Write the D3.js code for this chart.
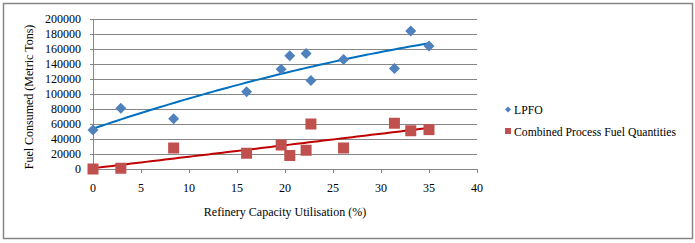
<!DOCTYPE html>
<html>
<head>
<meta charset="utf-8">
<script src="https://cdn.jsdelivr.net/npm/d3@7"></script>
<style>
	body { margin: 0; background: #fff; }
	text { font-family: "Liberation Serif", "Times New Roman", serif; fill: #000; }
</style>
</head>
<body>
<div id="chart01"></div>
<script>
// values
var utilisation = [0, 2.9, 8.4, 16.0, 19.6, 20.5, 22.2, 22.7, 26.1, 31.4, 33.1, 35.0];
var lpfo = [52000, 81000, 67000, 103000, 133000, 151000, 154000, 118000, 146000, 134000, 184000, 164000];
var combined = [0, 1000, 28000, 21000, 32000, 18000, 25000, 60000, 28000, 61000, 51000, 52500];
var xTicks = [0, 5, 10, 15, 20, 25, 30, 35, 40];
var yTicks = [0, 20000, 40000, 60000, 80000, 100000, 120000, 140000, 160000, 180000, 200000];
var seriesNames = ["LPFO", "Combined Process Fuel Quantities"];

var width = 695, height = 243;
var svg = d3.select("#chart01").append("svg").attr("width", width).attr("height", height);

// outer frame
svg.append("rect")
	.attr("x", 3.5).attr("y", 3.5)
	.attr("width", 689).attr("height", 235)
	.attr("fill", "none").attr("stroke", "#868686").attr("stroke-width", 1.5);

var x = d3.scaleLinear().domain([0, 40]).range([93, 477]);
var y = d3.scaleLinear().domain([0, 200000]).range([169, 19]);

// gridlines
svg.append("g")
	.selectAll("line")
	.data(yTicks)
	.enter()
	.append("line")
	.attr("x1", 90)
	.attr("x2", x(40))
	.attr("y1", (d) => Math.round(y(d)) + 0.5)
	.attr("y2", (d) => Math.round(y(d)) + 0.5)
	.attr("stroke", "#868686");

// y axis line
svg.append("line")
	.attr("x1", x(0) + 0.5).attr("x2", x(0) + 0.5)
	.attr("y1", y(200000)).attr("y2", y(0) + 4)
	.attr("stroke", "#868686");

// x ticks
svg.append("g")
	.selectAll("line")
	.data(xTicks)
	.enter()
	.append("line")
	.attr("x1", (d) => Math.round(x(d)) + 0.5)
	.attr("x2", (d) => Math.round(x(d)) + 0.5)
	.attr("y1", y(0))
	.attr("y2", y(0) + 4)
	.attr("stroke", "#868686");

// tick labels
svg.append("g")
	.selectAll("text")
	.data(yTicks)
	.enter()
	.append("text")
	.attr("x", 81)
	.attr("y", (d) => y(d))
	.attr("dy", "0.35em")
	.attr("text-anchor", "end")
	.attr("font-size", "12px")
	.text((d) => d);

svg.append("g")
	.selectAll("text")
	.data(xTicks)
	.enter()
	.append("text")
	.attr("x", (d) => x(d))
	.attr("y", 192)
	.attr("text-anchor", "middle")
	.attr("font-size", "12px")
	.text((d) => d);

// axis titles
svg.append("text")
	.attr("text-anchor", "middle")
	.attr("x", 285)
	.attr("y", 216)
	.attr("font-size", "12px")
	.text("Refinery Capacity Utilisation (%)");
svg.append("text")
	.attr("text-anchor", "middle")
	.attr("transform", "rotate(-90)")
	.attr("x", -97)
	.attr("y", 33)
	.attr("font-size", "12px")
	.text("Fuel Consumed (Metric Tons)");

// least squares fits (Excel-style trendlines)
function polyFit(xs, ys, order) {
	var n = order + 1;
	var A = [], b = [];
	for (var i = 0; i < n; i++) {
		A.push([]);
		for (var j = 0; j < n; j++) A[i].push(d3.sum(xs, (v) => Math.pow(v, i + j)));
		b.push(d3.sum(xs, (v, k) => Math.pow(v, i) * ys[k]));
	}
	// gaussian elimination
	for (var c = 0; c < n; c++) {
		for (var r = c + 1; r < n; r++) {
			var f = A[r][c] / A[c][c];
			for (var k = c; k < n; k++) A[r][k] -= f * A[c][k];
			b[r] -= f * b[c];
		}
	}
	var coef = new Array(n).fill(0);
	for (var r2 = n - 1; r2 >= 0; r2--) {
		var s = b[r2];
		for (var k2 = r2 + 1; k2 < n; k2++) s -= A[r2][k2] * coef[k2];
		coef[r2] = s / A[r2][r2];
	}
	return (v) => coef.reduce((acc, cf, p) => acc + cf * Math.pow(v, p), 0);
}

var blueFit = polyFit(utilisation, lpfo, 2);
var redFit = polyFit(utilisation, combined, 1);
var trendX = d3.range(0, 35.01, 0.5);
var line = d3.line().x((d) => x(d[0])).y((d) => y(d[1]));

svg.append("path")
	.datum(trendX.map((v) => [v, blueFit(v)]))
	.attr("d", line)
	.attr("fill", "none")
	.attr("stroke", "#0070C0")
	.attr("stroke-width", 2);
svg.append("path")
	.datum(trendX.map((v) => [v, redFit(v)]))
	.attr("d", line)
	.attr("fill", "none")
	.attr("stroke", "#C00000")
	.attr("stroke-width", 2);

// points
var diamond = d3.symbol().type(d3.symbolSquare).size(60);
svg.append("g")
	.selectAll("path")
	.data(utilisation)
	.enter()
	.append("path")
	.attr("d", diamond)
	.attr("transform", (d, i) => `translate(${x(d)},${y(lpfo[i])}) rotate(45)`)
	.attr("fill", "#4F81BD");

svg.append("g")
	.selectAll("rect")
	.data(utilisation)
	.enter()
	.append("rect")
	.attr("x", (d) => x(d) - 5.5)
	.attr("y", (d, i) => y(combined[i]) - 5.5)
	.attr("width", 11)
	.attr("height", 11)
	.attr("fill", "#C0504D");

// legend
var legend = svg.append("g").attr("class", "legend");
legend.append("path")
	.attr("d", d3.symbol().type(d3.symbolSquare).size(18))
	.attr("transform", "translate(508,109.5) rotate(45)")
	.attr("fill", "#4F81BD");
legend.append("text")
	.attr("x", 514)
	.attr("y", 109.5)
	.attr("dy", "0.35em")
	.attr("font-size", "11.7px")
	.text(seriesNames[0]);
legend.append("rect")
	.attr("x", 505).attr("y", 128)
	.attr("width", 6).attr("height", 6)
	.attr("fill", "#C0504D");
legend.append("text")
	.attr("x", 514)
	.attr("y", 131.5)
	.attr("dy", "0.35em")
	.attr("font-size", "11.7px")
	.text(seriesNames[1]);
</script>
</body>
</html>
